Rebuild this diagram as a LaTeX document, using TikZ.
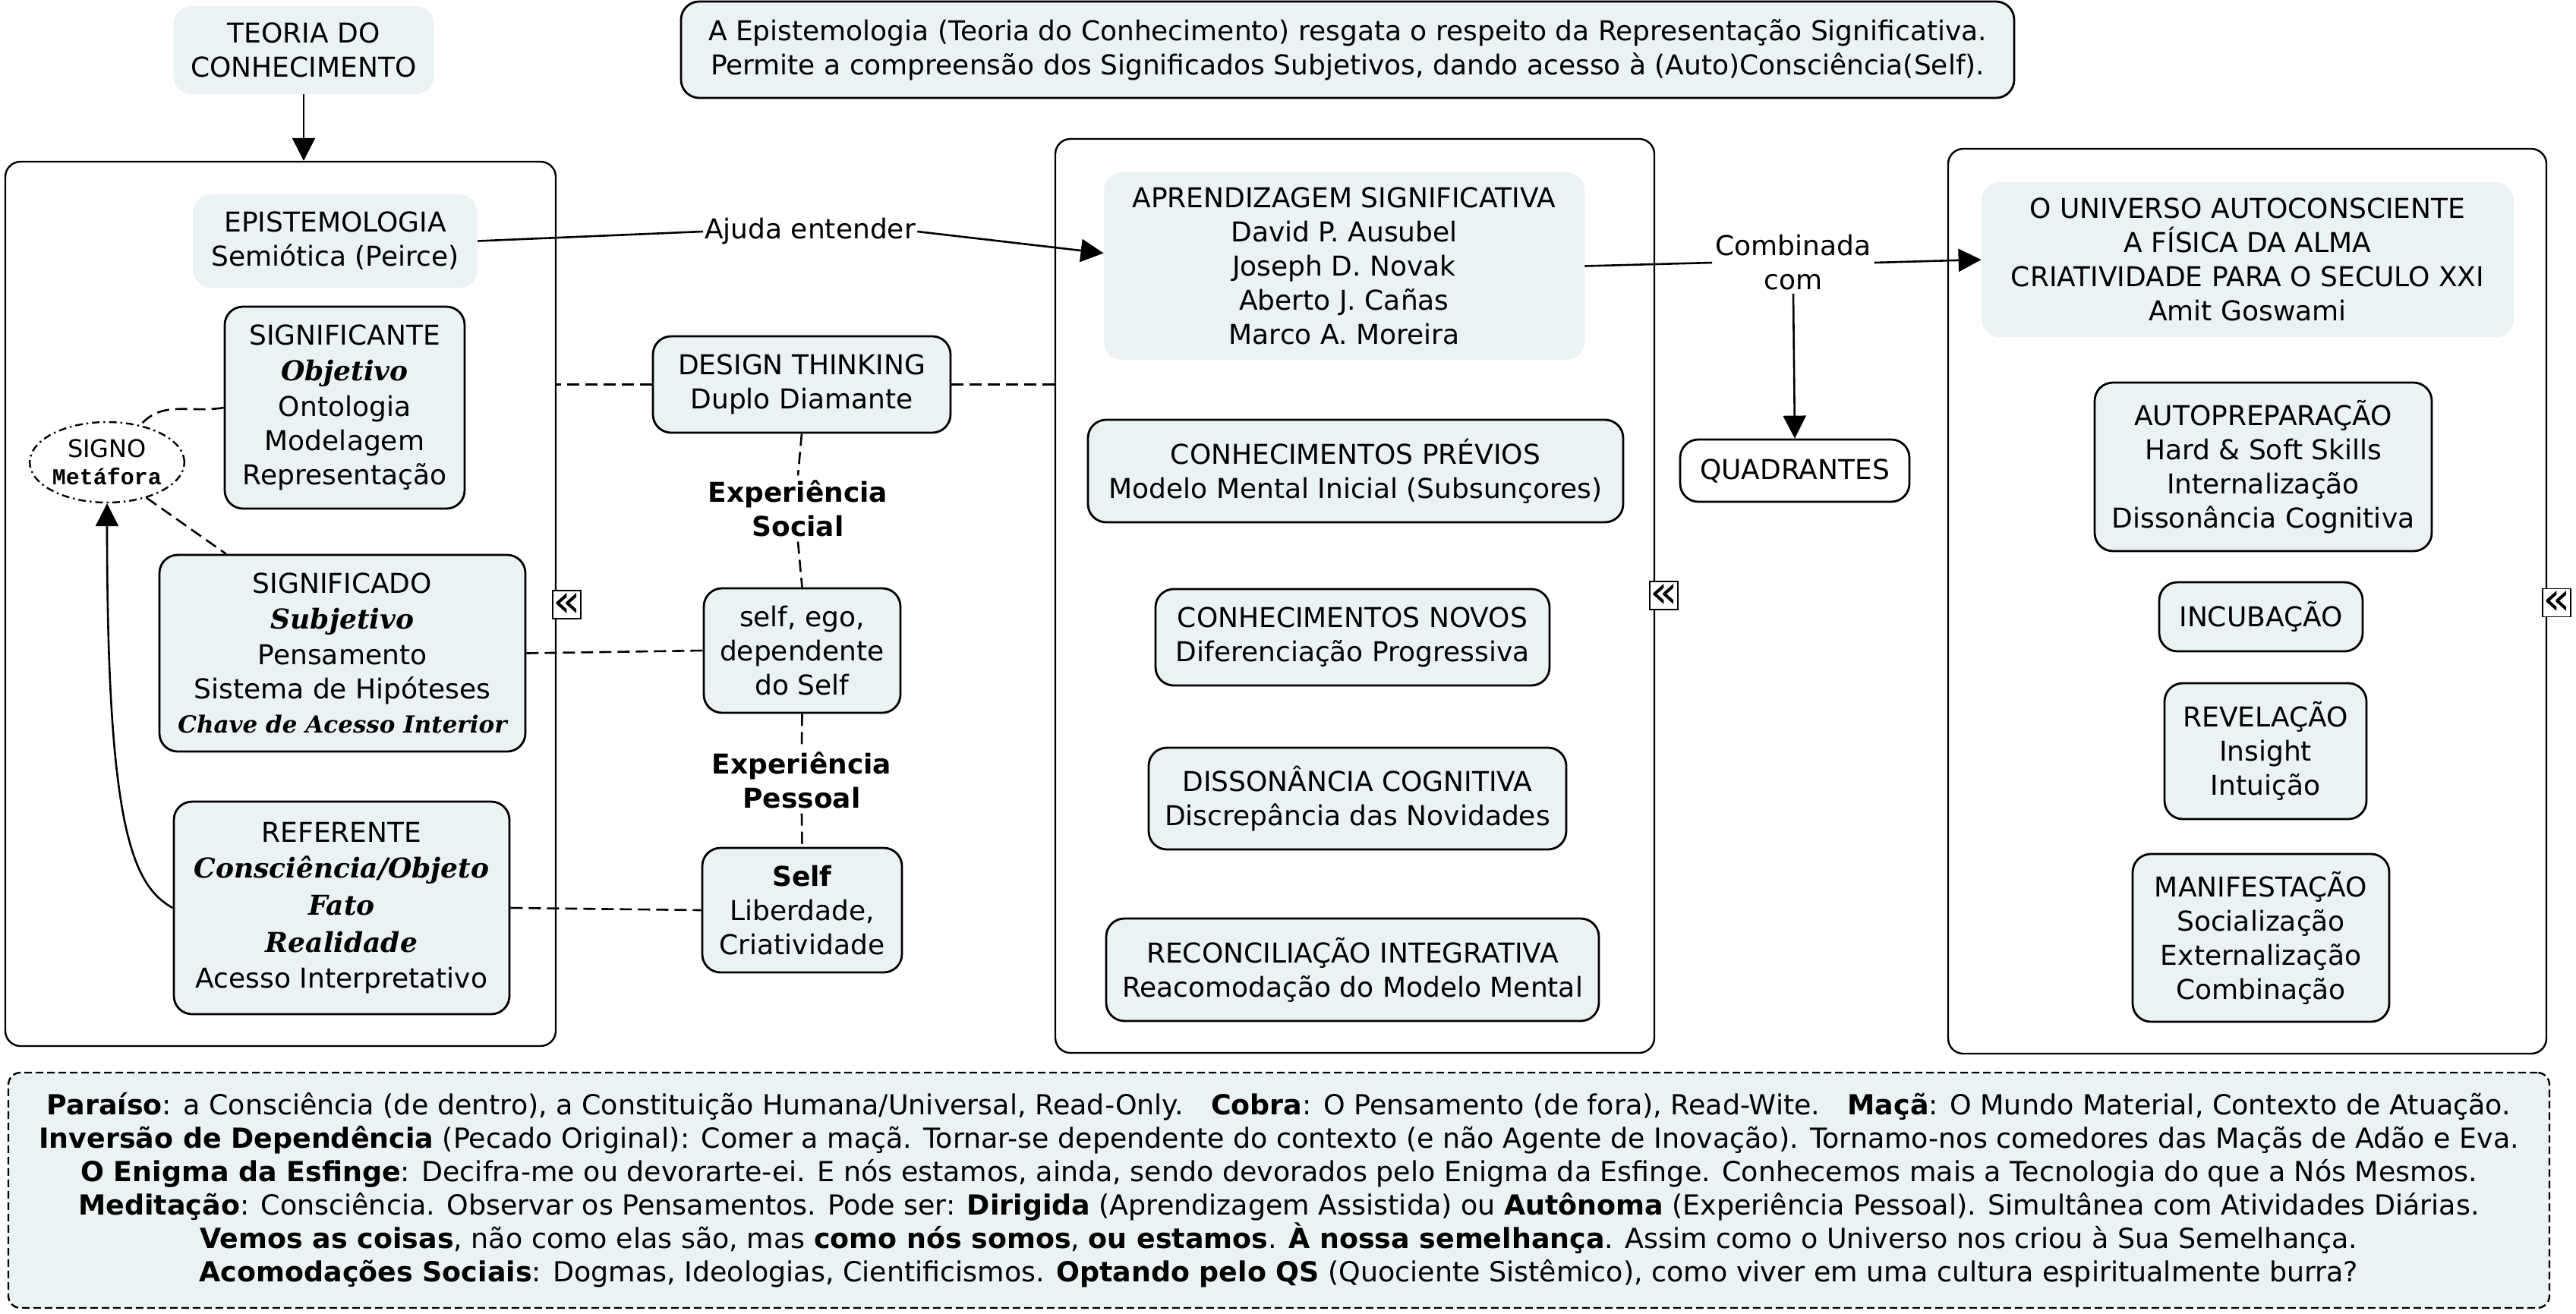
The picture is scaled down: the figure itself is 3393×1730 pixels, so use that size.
\documentclass[tikz,border=0pt]{standalone}
\usepackage{fontspec}
\setmainfont{DejaVu Sans}
\newfontfamily\handfont{DejaVu Serif}
\newfontfamily\monofnt{Liberation Mono}
\usetikzlibrary{arrows.meta,shapes.geometric,calc}
\definecolor{boxfill}{RGB}{234,242,244}
\newcommand\mainfs{\fontsize{18pt}{22.5pt}\selectfont}
\newcommand\cursv[1]{{\handfont\bfseries\itshape\fontsize{18pt}{24pt}\selectfont #1}}
\begin{document}
\begin{tikzpicture}[x=0.5pt,y=-0.5pt,
  base/.style={font=\mainfs, align=center, inner sep=2pt, rounded corners=12pt},
  plain/.style={base, fill=boxfill},
  boxed/.style={base, fill=boxfill, draw, line width=1.4pt},
  container/.style={draw, line width=1.2pt, rounded corners=10pt, inner sep=0pt},
  conn/.style={line width=1.3pt},
  dconn/.style={line width=1.3pt, dash pattern=on 8pt off 4pt},
  arr/.style={conn, -{Triangle[length=15pt,width=15pt]}},
  lbl/.style={font=\mainfs, align=center, inner sep=3pt},
  marker/.style={draw, line width=0.8pt, fill=white, minimum size=18.5pt, inner sep=0pt, font=\fontsize{30pt}{30pt}\selectfont}
]
\useasboundingbox (0,0) rectangle (3393,1730);

% containers
\node[container, minimum width=362.5pt, minimum height=582.5pt] (leftbox) at (369.5,795.5) {};
\node[container, minimum width=394.5pt, minimum height=602pt] (midbox) at (1784.5,785) {};
\node[container, minimum width=394pt, minimum height=596pt] (rightbox) at (2960,792) {};

% top
\node[plain, minimum width=171.5pt, minimum height=58pt] (teoria) at (400,66) {TEORIA DO\\CONHECIMENTO};
\node[boxed, minimum width=878pt, minimum height=63.5pt] (topnote) at (1775,65.5)
 {A Epistemologia (Teoria do Conhecimento) resgata o respeito da Representação Significativa.\\
  Permite a compreensão dos Significados Subjetivos, dando acesso à (Auto)Consciência(Self).};

% left column
\node[plain, minimum width=187.5pt, minimum height=61.5pt] (epist) at (441.5,317.5) {EPISTEMOLOGIA\\Semiótica (Peirce)};
\node[boxed, minimum width=158pt, minimum height=133pt] (signif) at (454,537)
 {SIGNIFICANTE\\[1pt]\cursv{Objetivo}\\[1pt]Ontologia\\Modelagem\\Representação};
\node[ellipse, draw, line width=1.2pt, dash pattern=on 5pt off 2.5pt on 1.2pt off 2.5pt, minimum width=92pt, minimum height=53pt, inner sep=0pt, align=center, font=\fontsize{16pt}{18pt}\selectfont] (signo) at (141,609)
 {SIGNO\\{\monofnt\bfseries\fontsize{15pt}{17pt}\selectfont Metáfora}};
\node[boxed, minimum width=241pt, minimum height=129.5pt] (significado) at (451,860.5)
 {SIGNIFICADO\\[1pt]\cursv{Subjetivo}\\[1pt]Pensamento\\Sistema de Hipóteses\\{\handfont\bfseries\itshape\fontsize{15.5pt}{20pt}\selectfont Chave de Acesso Interior}};
\node[boxed, minimum width=221pt, minimum height=140pt] (referente) at (450,1196)
 {REFERENTE\\[1pt]\cursv{Consciência/Objeto}\\[2pt]\cursv{Fato}\\[2pt]\cursv{Realidade}\\[1pt]Acesso Interpretativo};

% center column
\node[boxed, minimum width=196pt, minimum height=63.5pt] (design) at (1056,506.5) {DESIGN THINKING\\Duplo Diamante};
\node[lbl, font=\mainfs\bfseries] (expsocial) at (1051,670) {Experiência\\Social};
\node[boxed, minimum width=129.5pt, minimum height=82pt] (selfego) at (1056.5,857) {self, ego,\\dependente\\do Self};
\node[lbl, font=\mainfs\bfseries] (exppessoal) at (1056,1028) {Experiência\\Pessoal};
\node[boxed, minimum width=131.5pt, minimum height=82pt] (self) at (1056.5,1199) {\textbf{Self}\\Liberdade,\\Criatividade};
\node[lbl, inner sep=1pt] (ajuda) at (1067,305) {Ajuda entender};

% middle column
\node[plain, minimum width=316.5pt, minimum height=123.5pt] (aprend) at (1770.5,350.5)
 {APRENDIZAGEM SIGNIFICATIVA\\David P. Ausubel\\Joseph D. Novak\\Aberto J. Cañas\\Marco A. Moreira};
\node[boxed, minimum width=352.5pt, minimum height=67.5pt] (previos) at (1785.5,620.5) {CONHECIMENTOS PRÉVIOS\\Modelo Mental Inicial (Subsunçores)};
\node[boxed, minimum width=259.5pt, minimum height=63.5pt] (novos) at (1781.5,839.5) {CONHECIMENTOS NOVOS\\Diferenciação Progressiva};
\node[boxed, minimum width=275pt, minimum height=67pt] (disson) at (1788,1052) {DISSONÂNCIA COGNITIVA\\Discrepância das Novidades};
\node[boxed, minimum width=324.5pt, minimum height=67.5pt] (reconc) at (1781.5,1277.5) {RECONCILIAÇÃO INTEGRATIVA\\Reacomodação do Modelo Mental};

\node[lbl, inner sep=2pt] (combinada) at (2362,346) {Combinada\\com};
\node[base, draw, fill=white, line width=1.4pt, minimum width=151pt, minimum height=41pt] (quadrantes) at (2364,620) {QUADRANTES};

% right column
\node[plain, minimum width=350.5pt, minimum height=102pt] (universo) at (2960.5,342)
 {O UNIVERSO AUTOCONSCIENTE\\A FÍSICA DA ALMA\\CRIATIVIDADE PARA O SECULO XXI\\Amit Goswami};
\node[boxed, minimum width=222pt, minimum height=111pt] (autoprep) at (2981,615) {AUTOPREPARAÇÃO\\Hard \& Soft Skills\\Internalização\\Dissonância Cognitiva};
\node[boxed, minimum width=134pt, minimum height=45.5pt] (incub) at (2978,812.5) {INCUBAÇÃO};
\node[boxed, minimum width=133pt, minimum height=89.5pt] (revel) at (2984,989.5) {REVELAÇÃO\\Insight\\Intuição};
\node[boxed, minimum width=169pt, minimum height=110.5pt] (manif) at (2978,1235.5) {MANIFESTAÇÃO\\Socialização\\Externalização\\Combinação};

% bottom note
\node[base, fill=boxfill, draw, line width=1.2pt, dash pattern=on 5pt off 2.5pt, rounded corners=8pt, minimum width=1673.5pt, minimum height=155pt, font=\fontsize{18.2pt}{22pt}\selectfont] (nota) at (1684.5,1568)
 {\textbf{Paraíso}: a Consciência (de dentro), a Constituição Humana/Universal, Read-Only.\quad\textbf{Cobra}: O Pensamento (de fora), Read-Wite.\quad\textbf{Maçã}: O Mundo Material, Contexto de Atuação.\\
  \textbf{Inversão de Dependência} (Pecado Original): Comer a maçã. Tornar-se dependente do contexto (e não Agente de Inovação). Tornamo-nos comedores das Maçãs de Adão e Eva.\\
  \textbf{O Enigma da Esfinge}: Decifra-me ou devorarte-ei. E nós estamos, ainda, sendo devorados pelo Enigma da Esfinge. Conhecemos mais a Tecnologia do que a Nós Mesmos.\\
  \textbf{Meditação}: Consciência. Observar os Pensamentos. Pode ser: \textbf{Dirigida} (Aprendizagem Assistida) ou \textbf{Autônoma} (Experiência Pessoal). Simultânea com Atividades Diárias.\\
  \textbf{Vemos as coisas}, não como elas são, mas \textbf{como nós somos}, \textbf{ou estamos}. \textbf{À nossa semelhança}. Assim como o Universo nos criou à Sua Semelhança.\\
  \textbf{Acomodações Sociais}: Dogmas, Ideologias, Cientificismos. \textbf{Optando pelo QS} (Quociente Sistêmico), como viver em uma cultura espiritualmente burra?};

% connectors
\draw[arr] (teoria.south) -- (teoria.south |- leftbox.north);
\draw[conn] (epist.east) -- (ajuda.west);
\draw[arr] (ajuda.east) -- ([yshift=8.5pt]aprend.west);
\draw[conn] (aprend.east) -- (combinada.west);
\draw[arr] (combinada.east) -- (universo.west);
\draw[arr] (combinada.south) -- (quadrantes.north);

\draw[dconn] (design.west) -- (design.west -| leftbox.east);
\draw[dconn] (design.east) -- (design.east -| midbox.west);
\draw[dconn] (design.south) -- (expsocial.north);
\draw[dconn] (expsocial.south) -- (selfego.north);
\draw[dconn] (selfego.south) -- (exppessoal.north);
\draw[dconn] (exppessoal.south) -- (self.north);
\draw[dconn] (significado.east) -- (selfego.west);
\draw[dconn] (referente.east) -- (self.west);

\draw[dconn] (signif.west) to[out=190,in=50] (signo.48);
\draw[dconn] (signo.-42) -- ($(significado.north west)+(89,0)$);
\draw[arr] (referente.west) .. controls +(-55,-30) and +(0,420) .. (signo.south);

% collapse markers
\node[marker] (m1) at (746.5,796.5) {«};
\node[marker] (m2) at (2191.5,784.5) {«};
\node[marker] (m3) at (3367.5,794) {«};
\end{tikzpicture}
\end{document}
